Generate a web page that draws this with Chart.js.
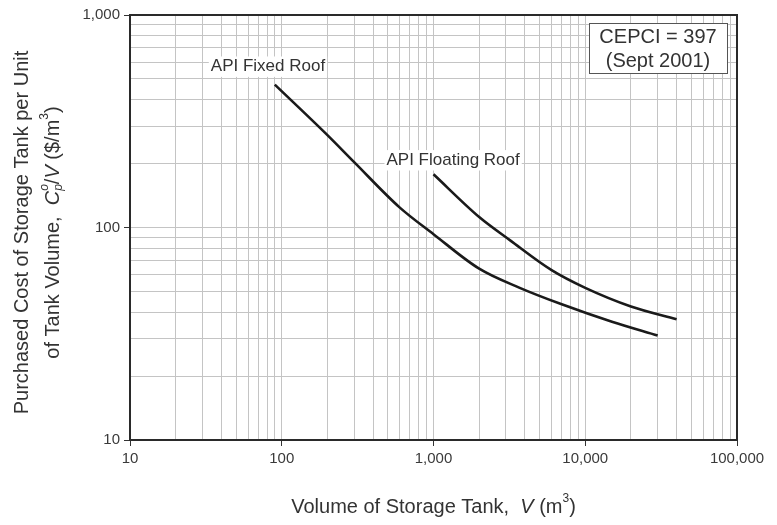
<!DOCTYPE html>
<html>
<head>
<meta charset="utf-8">
<script src="https://cdn.jsdelivr.net/npm/chart.js@4.4.1/dist/chart.umd.min.js"></script>
<style>
	html, body { margin: 0; padding: 0; background: #fff; }
	canvas { display: block; }
</style>
</head>
<body>
<canvas id="tankChart" width="777" height="525"></canvas>
<script>
// values
const fixedVolume = [90, 200, 300, 600, 1000, 2000, 3700, 7000, 15000, 30000]
const fixedCost = [470, 272, 203, 124, 93, 64, 52, 43.5, 36, 31]
const floatVolume = [1000, 2000, 3200, 6000, 10000, 20000, 40000]
const floatCost = [178, 112, 87, 63, 52, 42.5, 37]
const seriesNames = ['API Fixed Roof', 'API Floating Roof']
const xMajor = [10, 100, 1000, 10000, 100000]
const xTickLabels = ['10', '100', '1,000', '10,000', '100,000']
const yMajor = [10, 100, 1000]
const yTickLabels = ['10', '100', '1,000']
const gridSteps = [1, 2, 3, 4, 5, 6, 7, 8, 9]
const noteLines = ['CEPCI = 397', '(Sept 2001)']

const family = '"Liberation Sans", Arial, Helvetica, sans-serif'
const ink = '#333'

let gridOf = majors => {
	let out = []
	majors.forEach((m, i) => {
		if (i < majors.length - 1) gridSteps.forEach(s => out.push(m * s))
		else out.push(m)
	})
	return out
}
let labelOf = (v, majors, labels) => {
	let i = majors.indexOf(v)
	return i < 0 ? '' : labels[i]
}
let pts = (xs, ys) => xs.map((x, i) => ({ x: x, y: ys[i] }))

// draws a line of text made of runs (italic / superscript / subscript)
let drawRuns = (ctx, runs, cx, cy, size) => {
	let sm = Math.round(size * 0.62)
	let fontOf = r => (r.i ? 'italic ' : '') + (r.sup || r.sub ? sm : size) + 'px ' + family
	let total = 0
	runs.forEach(r => {
		ctx.font = fontOf(r)
		r.w = ctx.measureText(r.t).width
		if (!r.over) total += r.w
	})
	let x = cx - total / 2
	ctx.textAlign = 'left'
	ctx.textBaseline = 'middle'
	runs.forEach(r => {
		ctx.font = fontOf(r)
		let dy = r.sup ? -size * 0.4 : r.sub ? size * 0.28 : 0
		ctx.fillText(r.t, x, cy + dy)
		if (!r.over) x += r.w
	})
}

let labelBox = (ctx, text, left, cy, size) => {
	ctx.font = size + 'px ' + family
	let w = ctx.measureText(text).width
	ctx.fillStyle = '#fff'
	ctx.fillRect(left - 2, cy - size * 0.6, w + 4, size * 1.2)
	ctx.fillStyle = ink
	ctx.textAlign = 'left'
	ctx.textBaseline = 'middle'
	ctx.fillText(text, left, cy)
}

const paperPlugin = {
	id: 'paper',
	afterDatasetsDraw(chart) {
		let ctx = chart.ctx
		let a = chart.chartArea
		let m0 = chart.getDatasetMeta(0).data[0]
		let m1 = chart.getDatasetMeta(1).data[0]
		ctx.save()
		labelBox(ctx, seriesNames[0], m0.x - 64, m0.y - 18, 17)
		labelBox(ctx, seriesNames[1], m1.x - 47, m1.y - 14, 17)

		// note box, top right
		let bw = 138, bh = 50
		let bx = a.right - 10 - bw, by = a.top + 8
		ctx.fillStyle = '#fff'
		ctx.fillRect(bx, by, bw, bh)
		ctx.strokeStyle = '#555'
		ctx.lineWidth = 1
		ctx.strokeRect(bx + 0.5, by + 0.5, bw, bh)
		ctx.fillStyle = ink
		ctx.font = '20px ' + family
		ctx.textAlign = 'center'
		ctx.textBaseline = 'middle'
		ctx.fillText(noteLines[0], bx + bw / 2, by + 14)
		ctx.fillText(noteLines[1], bx + bw / 2, by + 38)
		ctx.restore()
	},
	afterDraw(chart) {
		let ctx = chart.ctx
		let a = chart.chartArea
		ctx.save()
		ctx.strokeStyle = '#2a2a2a'
		ctx.lineWidth = 2
		ctx.strokeRect(a.left, a.top, a.right - a.left, a.bottom - a.top)

		ctx.fillStyle = ink
		drawRuns(ctx, [
			{ t: 'Volume of Storage Tank,  ' },
			{ t: 'V', i: true },
			{ t: ' (m' },
			{ t: '3', sup: true },
			{ t: ')' }
		], (a.left + a.right) / 2, 507, 20)

		let midY = (a.top + a.bottom) / 2 + 5
		ctx.translate(22, midY)
		ctx.rotate(-Math.PI / 2)
		drawRuns(ctx, [{ t: 'Purchased Cost of Storage Tank per Unit' }], 0, 0, 20)
		ctx.translate(0, 31)
		drawRuns(ctx, [
			{ t: 'of Tank Volume,  ' },
			{ t: 'C', i: true },
			{ t: 'o', i: true, sup: true, over: true },
			{ t: 'p', i: true, sub: true },
			{ t: '/' },
			{ t: 'V', i: true },
			{ t: ' ($/m' },
			{ t: '3', sup: true },
			{ t: ')' }
		], 0, 0, 20)
		ctx.restore()
	}
}

let axisOf = (majors, labels, min, max) => ({
	type: 'logarithmic',
	min: min,
	max: max,
	afterBuildTicks: s => { s.ticks = gridOf(majors).map(v => ({ value: v })) },
	ticks: {
		autoSkip: false,
		maxRotation: 0,
		padding: 4,
		color: '#3a3a3a',
		font: { size: 15, family: family },
		callback: v => labelOf(v, majors, labels)
	},
	grid: {
		color: '#c4c4c4',
		lineWidth: 1,
		tickLength: 6,
		tickColor: c => (c.tick && majors.indexOf(c.tick.value) >= 0) ? '#333' : 'rgba(0,0,0,0)'
	},
	border: { display: false }
})

let xAxis = axisOf(xMajor, xTickLabels, 10, 100000)
xAxis.afterFit = s => { s.height = 85 }
let yAxis = axisOf(yMajor, yTickLabels, 10, 1000)
yAxis.afterFit = s => { s.width = 130 }

new Chart(document.getElementById('tankChart'), {
	type: 'line',
	data: {
		datasets: [
			{ label: seriesNames[0], data: pts(fixedVolume, fixedCost) },
			{ label: seriesNames[1], data: pts(floatVolume, floatCost) }
		]
	},
	options: {
		responsive: false,
		devicePixelRatio: 1,
		animation: false,
		parsing: false,
		layout: { padding: { top: 15, right: 40, left: 0, bottom: 0 } },
		elements: {
			point: { radius: 0 },
			line: { borderColor: '#1a1a1a', borderWidth: 2.6, cubicInterpolationMode: 'monotone', fill: false }
		},
		plugins: { legend: { display: false }, tooltip: { enabled: false } },
		scales: { x: xAxis, y: yAxis }
	},
	plugins: [paperPlugin]
})
</script>
</body>
</html>
